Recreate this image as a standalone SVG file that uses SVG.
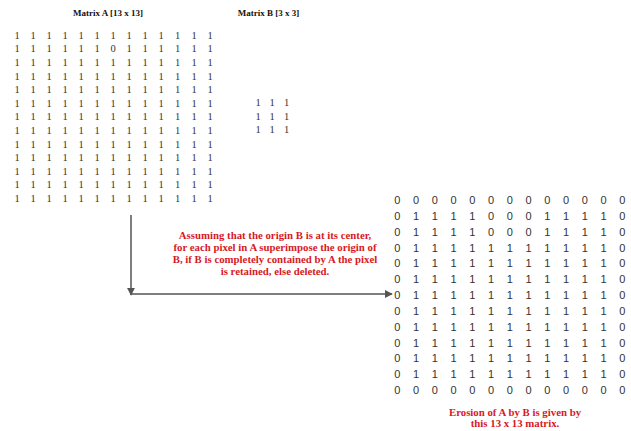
<svg xmlns="http://www.w3.org/2000/svg" width="631" height="431" viewBox="0 0 631 431">
<style>
.title{font-family:"Liberation Serif",serif;font-weight:bold;font-size:9px;fill:#111;text-anchor:middle}
.ma{font-family:"Liberation Serif",serif;font-size:10.5px;fill:#333;text-anchor:middle}
.mr{font-family:"Liberation Sans",sans-serif;font-size:11px;fill:#333;text-anchor:middle}
.note{font-family:"Liberation Serif",serif;font-weight:bold;font-size:10.8px;fill:#d7191f;text-anchor:middle}
.conn{stroke:#555;stroke-width:1.5;fill:none}
</style>
<defs>
<marker id="ah" viewBox="0 0 10 10" refX="9" refY="5" markerWidth="5.5" markerHeight="5.5" orient="auto" markerUnits="strokeWidth">
<path d="M0,0 L10,5 L0,10 z" fill="#555"/>
</marker>
</defs>
<rect width="631" height="431" fill="#fff"/>
<g id="matrixA">
<text class="title" x="108" y="15.5">Matrix A [13 x 13]</text>
<g class="ma">
<text x="17 25 33 41 49 57 65 73 81 89 97 105 113 121 129 137 145 153 161 169 177.5 185.5 194 202 210" y="38.7">1 1 1 1 1 1 1 1 1 1 1 1 1</text>
<text x="17 25 33 41 49 57 65 73 81 89 97 105 113 121 129 137 145 153 161 169 177.5 185.5 194 202 210" y="52.3">1 1 1 1 1 1 0 1 1 1 1 1 1</text>
<text x="17 25 33 41 49 57 65 73 81 89 97 105 113 121 129 137 145 153 161 169 177.5 185.5 194 202 210" y="65.9">1 1 1 1 1 1 1 1 1 1 1 1 1</text>
<text x="17 25 33 41 49 57 65 73 81 89 97 105 113 121 129 137 145 153 161 169 177.5 185.5 194 202 210" y="79.5">1 1 1 1 1 1 1 1 1 1 1 1 1</text>
<text x="17 25 33 41 49 57 65 73 81 89 97 105 113 121 129 137 145 153 161 169 177.5 185.5 194 202 210" y="93.1">1 1 1 1 1 1 1 1 1 1 1 1 1</text>
<text x="17 25 33 41 49 57 65 73 81 89 97 105 113 121 129 137 145 153 161 169 177.5 185.5 194 202 210" y="106.7">1 1 1 1 1 1 1 1 1 1 1 1 1</text>
<text x="17 25 33 41 49 57 65 73 81 89 97 105 113 121 129 137 145 153 161 169 177.5 185.5 194 202 210" y="120.3">1 1 1 1 1 1 1 1 1 1 1 1 1</text>
<text x="17 25 33 41 49 57 65 73 81 89 97 105 113 121 129 137 145 153 161 169 177.5 185.5 194 202 210" y="133.9">1 1 1 1 1 1 1 1 1 1 1 1 1</text>
<text x="17 25 33 41 49 57 65 73 81 89 97 105 113 121 129 137 145 153 161 169 177.5 185.5 194 202 210" y="147.5">1 1 1 1 1 1 1 1 1 1 1 1 1</text>
<text x="17 25 33 41 49 57 65 73 81 89 97 105 113 121 129 137 145 153 161 169 177.5 185.5 194 202 210" y="161.1">1 1 1 1 1 1 1 1 1 1 1 1 1</text>
<text x="17 25 33 41 49 57 65 73 81 89 97 105 113 121 129 137 145 153 161 169 177.5 185.5 194 202 210" y="174.7">1 1 1 1 1 1 1 1 1 1 1 1 1</text>
<text x="17 25 33 41 49 57 65 73 81 89 97 105 113 121 129 137 145 153 161 169 177.5 185.5 194 202 210" y="188.3">1 1 1 1 1 1 1 1 1 1 1 1 1</text>
<text x="17 25 33 41 49 57 65 73 81 89 97 105 113 121 129 137 145 153 161 169 177.5 185.5 194 202 210" y="201.9">1 1 1 1 1 1 1 1 1 1 1 1 1</text>
</g>
</g>
<g id="matrixB">
<text class="title" x="268.5" y="15.5">Matrix B [3 x 3]</text>
<g class="ma">
<text x="258 265 272 279 286.5" y="105.7">1 1 1</text>
<text x="258 265 272 279 286.5" y="119.7">1 1 1</text>
<text x="258 265 272 279 286.5" y="132.7">1 1 1</text>
</g>
</g>
<g id="description">
<text class="note" x="275" y="238.5">Assuming that the origin B is at its center,</text>
<text class="note" x="275" y="250.5">for each pixel in A superimpose the origin of</text>
<text class="note" x="275" y="263">B, if B is completely contained by A the pixel</text>
<text class="note" x="275" y="275">is retained, else deleted.</text>
</g>
<g id="connectors">
<line class="conn" x1="131" y1="215" x2="131" y2="295" marker-end="url(#ah)"/>
<line class="conn" x1="131" y1="294" x2="392" y2="294" marker-end="url(#ah)"/>
</g>
<g id="result">
<g class="mr">
<text x="397.3 406.7 416.1 425.4 434.8 444.2 453.6 462.9 472.3 481.7 491.1 500.4 509.8 519.2 528.6 537.9 547.3 556.7 566.1 575.4 584.8 594.2 603.6 612.9 622.3" y="204">0 0 0 0 0 0 0 0 0 0 0 0 0</text>
<text x="397.3 406.7 416.1 425.4 434.8 444.2 453.6 462.9 472.3 481.7 491.1 500.4 509.8 519.2 528.6 537.9 547.3 556.7 566.1 575.4 584.8 594.2 603.6 612.9 622.3" y="219.8">0 1 1 1 1 0 0 0 1 1 1 1 0</text>
<text x="397.3 406.7 416.1 425.4 434.8 444.2 453.6 462.9 472.3 481.7 491.1 500.4 509.8 519.2 528.6 537.9 547.3 556.7 566.1 575.4 584.8 594.2 603.6 612.9 622.3" y="235.7">0 1 1 1 1 0 0 0 1 1 1 1 0</text>
<text x="397.3 406.7 416.1 425.4 434.8 444.2 453.6 462.9 472.3 481.7 491.1 500.4 509.8 519.2 528.6 537.9 547.3 556.7 566.1 575.4 584.8 594.2 603.6 612.9 622.3" y="251.5">0 1 1 1 1 1 1 1 1 1 1 1 0</text>
<text x="397.3 406.7 416.1 425.4 434.8 444.2 453.6 462.9 472.3 481.7 491.1 500.4 509.8 519.2 528.6 537.9 547.3 556.7 566.1 575.4 584.8 594.2 603.6 612.9 622.3" y="267.3">0 1 1 1 1 1 1 1 1 1 1 1 0</text>
<text x="397.3 406.7 416.1 425.4 434.8 444.2 453.6 462.9 472.3 481.7 491.1 500.4 509.8 519.2 528.6 537.9 547.3 556.7 566.1 575.4 584.8 594.2 603.6 612.9 622.3" y="283.2">0 1 1 1 1 1 1 1 1 1 1 1 0</text>
<text x="397.3 406.7 416.1 425.4 434.8 444.2 453.6 462.9 472.3 481.7 491.1 500.4 509.8 519.2 528.6 537.9 547.3 556.7 566.1 575.4 584.8 594.2 603.6 612.9 622.3" y="299">0 1 1 1 1 1 1 1 1 1 1 1 0</text>
<text x="397.3 406.7 416.1 425.4 434.8 444.2 453.6 462.9 472.3 481.7 491.1 500.4 509.8 519.2 528.6 537.9 547.3 556.7 566.1 575.4 584.8 594.2 603.6 612.9 622.3" y="314.8">0 1 1 1 1 1 1 1 1 1 1 1 0</text>
<text x="397.3 406.7 416.1 425.4 434.8 444.2 453.6 462.9 472.3 481.7 491.1 500.4 509.8 519.2 528.6 537.9 547.3 556.7 566.1 575.4 584.8 594.2 603.6 612.9 622.3" y="330.6">0 1 1 1 1 1 1 1 1 1 1 1 0</text>
<text x="397.3 406.7 416.1 425.4 434.8 444.2 453.6 462.9 472.3 481.7 491.1 500.4 509.8 519.2 528.6 537.9 547.3 556.7 566.1 575.4 584.8 594.2 603.6 612.9 622.3" y="346.5">0 1 1 1 1 1 1 1 1 1 1 1 0</text>
<text x="397.3 406.7 416.1 425.4 434.8 444.2 453.6 462.9 472.3 481.7 491.1 500.4 509.8 519.2 528.6 537.9 547.3 556.7 566.1 575.4 584.8 594.2 603.6 612.9 622.3" y="362.3">0 1 1 1 1 1 1 1 1 1 1 1 0</text>
<text x="397.3 406.7 416.1 425.4 434.8 444.2 453.6 462.9 472.3 481.7 491.1 500.4 509.8 519.2 528.6 537.9 547.3 556.7 566.1 575.4 584.8 594.2 603.6 612.9 622.3" y="378.1">0 1 1 1 1 1 1 1 1 1 1 1 0</text>
<text x="397.3 406.7 416.1 425.4 434.8 444.2 453.6 462.9 472.3 481.7 491.1 500.4 509.8 519.2 528.6 537.9 547.3 556.7 566.1 575.4 584.8 594.2 603.6 612.9 622.3" y="394">0 0 0 0 0 0 0 0 0 0 0 0 0</text>
</g>
</g>
<g id="caption">
<text class="note" x="515" y="415.5">Erosion of A by B is given by</text>
<text class="note" x="515" y="427">this 13 x 13 matrix.</text>
</g>
</svg>
